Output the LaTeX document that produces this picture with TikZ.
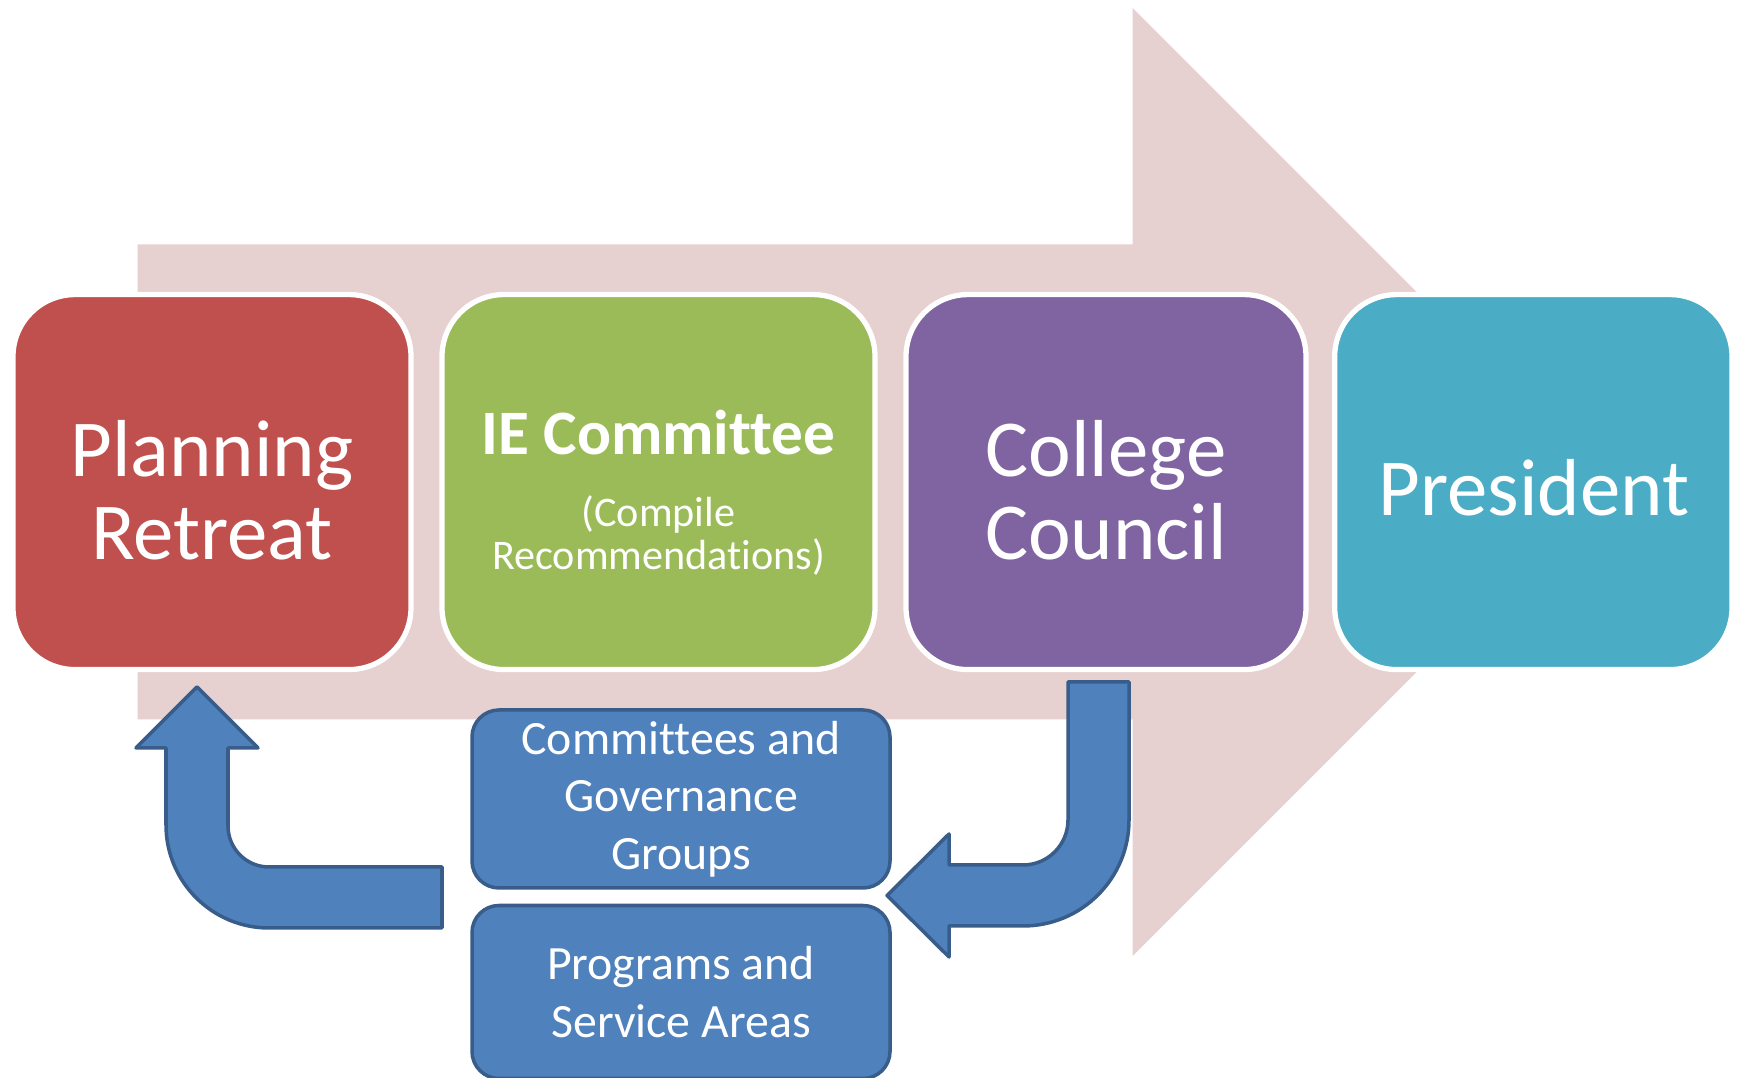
\documentclass[tikz,border=0pt]{standalone}
\usepackage{fontspec}
\setmainfont{Carlito}[Ligatures=NoCommon]
\usepackage{xcolor}
\definecolor{pkred}{RGB}{192,80,77}
\definecolor{pkgreen}{RGB}{155,187,89}
\definecolor{pkpurple}{RGB}{128,100,162}
\definecolor{pkaqua}{RGB}{75,172,198}
\definecolor{pkblue}{RGB}{79,129,189}
\definecolor{pkblueline}{RGB}{56,93,138}
\definecolor{pkpink}{RGB}{230,208,208}
\usepackage{tikz}
\usetikzlibrary{positioning}

\tikzset{
  stagebox/.style={draw=white, line width=1.5pt, rounded corners=0.62cm},
  stagetext/.style={text=white, align=center, font=\fontsize{23}{23.6}\selectfont},
  groupbox/.style={draw=pkblueline, fill=pkblue, line width=1pt, rounded corners=0.27cm,
    minimum width=4.18cm, inner sep=0pt, text=white, align=center,
    font=\fontsize{13.6}{16.4}\selectfont},
  bentarrow/.style={draw=pkblueline, fill=pkblue, line width=1pt, line join=round}
}

\begin{document}
\begin{tikzpicture}

\useasboundingbox (0,0) rectangle (17.41,10.78);

% === Big Background Arrow ===
\fill[pkpink] (1.377,8.335) -- (11.326,8.335) -- (11.326,10.70) -- (16.066,5.96)
  -- (11.326,1.22) -- (11.326,3.585) -- (1.377,3.585) -- cycle;

% === Stage Boxes ===
\draw[stagebox, fill=pkred] (0.13,4.084) rectangle (4.11,7.834);
\draw[stagebox, fill=pkgreen] (4.42,4.084) rectangle (8.75,7.834);
\draw[stagebox, fill=pkpurple] (9.06,4.084) rectangle (13.06,7.834);
\draw[stagebox, fill=pkaqua] (13.347,4.084) rectangle (17.32,7.834);

% === Stage Labels ===
\node[stagetext] (retreat) at (2.12,5.875) {Planning\\Retreat};
\node[stagetext, font=\fontsize{12}{12.2}\selectfont] (iecomm) at (6.585,5.85)
     {{\fontsize{18}{18}\selectfont\bfseries IE Committee}\\[8.3pt](Compile\\Recommendations)};
\node[stagetext] (council) at (11.06,5.875) {College\\Council};
\node[stagetext] (president) at (15.34,5.905) {President};

% === Feedback Groups ===
\node[groupbox, minimum height=1.78cm] (groups) at (6.81,2.79) {Committees and\\Governance\\Groups};
\node[groupbox, minimum height=1.73cm, below=0.14cm of groups] (programs) {Programs and\\Service Areas};

% === Bent Arrows ===
% back up to the retreat
\draw[bentarrow] (4.42,2.11) -- (2.69,2.11) arc[start angle=270, end angle=180, radius=0.41]
  -- (2.28,3.30) -- (2.58,3.30) -- (1.97,3.91) -- (1.36,3.30) -- (1.66,3.30)
  -- (1.66,2.53) arc[start angle=180, end angle=270, radius=1.03] -- (4.42,1.50) -- cycle;
% down from the council
\draw[bentarrow] (10.68,3.96) -- (11.29,3.96) -- (11.29,2.58) arc[start angle=0, end angle=-90, radius=1.06]
  -- (9.49,1.52) -- (9.49,1.21) -- (8.87,1.825) -- (9.49,2.44) -- (9.49,2.13)
  -- (10.23,2.13) arc[start angle=270, end angle=360, radius=0.45] -- cycle;

\end{tikzpicture}
\end{document}
